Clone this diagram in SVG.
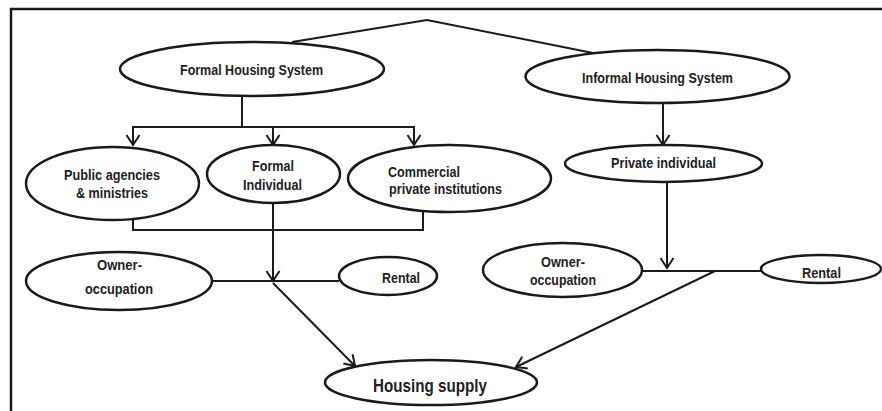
<svg xmlns="http://www.w3.org/2000/svg" width="882" height="411" viewBox="0 0 882 411">
<style>
.n{fill:#fff;stroke:#1a1a1a;stroke-width:2.5}
.c{fill:none;stroke:#1a1a1a;stroke-width:2}
.t{font-family:"Liberation Sans",Arial,sans-serif;font-weight:bold;font-size:15px;fill:#222;text-anchor:middle}
</style>
<defs>
<marker id="ah" markerUnits="userSpaceOnUse" markerWidth="14" markerHeight="16" viewBox="-12 -8 14 16" refX="0" refY="0" orient="auto">
<path d="M-10,-6.5 L0,0 L-10,6.5" fill="none" stroke="#1a1a1a" stroke-width="2"/>
</marker>
</defs>
<rect x="11" y="9" width="900" height="420" fill="#fff" stroke="#1a1a1a" stroke-width="2.5"/>
<g id="connectors">
<polyline class="c" points="292,42 427,20 593,53"/>
<line class="c" x1="242" y1="97" x2="242" y2="127"/>
<line class="c" x1="132" y1="127" x2="415" y2="127"/>
<line class="c" x1="133" y1="127" x2="133" y2="145" marker-end="url(#ah)"/>
<line class="c" x1="273" y1="127" x2="273" y2="145" marker-end="url(#ah)"/>
<line class="c" x1="414" y1="127" x2="414" y2="145" marker-end="url(#ah)"/>
<line class="c" x1="663" y1="103" x2="663" y2="145" marker-end="url(#ah)"/>
<polyline class="c" points="133,220 133,230 423,230 423,212"/>
<line class="c" x1="273" y1="203" x2="273" y2="281" marker-end="url(#ah)"/>
<line class="c" x1="212" y1="281" x2="339" y2="281"/>
<line class="c" x1="273" y1="283" x2="355" y2="366" marker-end="url(#ah)"/>
<line class="c" x1="667" y1="182" x2="667" y2="268" marker-end="url(#ah)"/>
<line class="c" x1="642" y1="271" x2="761" y2="271"/>
<line class="c" x1="715" y1="271" x2="516" y2="367" marker-end="url(#ah)"/>
</g>
<g id="formal">
<ellipse class="n" cx="252" cy="69" rx="132" ry="27"/>
<text class="t" x="251.5" y="75" textLength="143" lengthAdjust="spacingAndGlyphs">Formal Housing System</text>
</g>
<g id="informal">
<ellipse class="n" cx="657.5" cy="76.5" rx="132" ry="26.5"/>
<text class="t" x="657.5" y="83" textLength="151" lengthAdjust="spacingAndGlyphs">Informal Housing System</text>
</g>
<g id="public">
<ellipse class="n" cx="112.5" cy="183.5" rx="86.5" ry="36.5"/>
<text class="t" x="112" y="180" textLength="96" lengthAdjust="spacingAndGlyphs">Public agencies</text>
<text class="t" x="112" y="198" textLength="72" lengthAdjust="spacingAndGlyphs">&amp; ministries</text>
</g>
<g id="formal-individual">
<ellipse class="n" cx="273.5" cy="174" rx="66.5" ry="29"/>
<text class="t" x="273" y="171" textLength="42" lengthAdjust="spacingAndGlyphs">Formal</text>
<text class="t" x="272.5" y="190" textLength="59" lengthAdjust="spacingAndGlyphs">Individual</text>
</g>
<g id="commercial">
<ellipse class="n" cx="449.5" cy="178.5" rx="101.5" ry="33.5"/>
<text class="t" x="388" y="177" style="text-anchor:start" textLength="72" lengthAdjust="spacingAndGlyphs">Commercial</text>
<text class="t" x="389" y="194" style="text-anchor:start" textLength="113" lengthAdjust="spacingAndGlyphs">private institutions</text>
</g>
<g id="private-individual">
<ellipse class="n" cx="663.5" cy="163.5" rx="98.5" ry="18.5"/>
<text class="t" x="663.5" y="168" textLength="105" lengthAdjust="spacingAndGlyphs">Private individual</text>
</g>
<g id="owner-left">
<ellipse class="n" cx="119" cy="281" rx="93" ry="29"/>
<text class="t" x="119.5" y="270" textLength="45" lengthAdjust="spacingAndGlyphs">Owner-</text>
<text class="t" x="119" y="294" textLength="68" lengthAdjust="spacingAndGlyphs">occupation</text>
</g>
<g id="rental-left">
<ellipse class="n" cx="388" cy="276" rx="49" ry="19"/>
<text class="t" x="401" y="283" textLength="38" lengthAdjust="spacingAndGlyphs">Rental</text>
</g>
<g id="owner-right">
<ellipse class="n" cx="562.5" cy="270" rx="79.5" ry="27"/>
<text class="t" x="563" y="267" textLength="44" lengthAdjust="spacingAndGlyphs">Owner-</text>
<text class="t" x="563" y="285" textLength="66" lengthAdjust="spacingAndGlyphs">occupation</text>
</g>
<g id="rental-right">
<ellipse class="n" cx="821" cy="269" rx="60" ry="14"/>
<text class="t" x="802" y="278" style="text-anchor:start" textLength="39" lengthAdjust="spacingAndGlyphs">Rental</text>
</g>
<g id="housing-supply">
<ellipse class="n" cx="431" cy="382.5" rx="106" ry="22.5"/>
<text class="t" x="430" y="392" style="font-size:19px" textLength="114" lengthAdjust="spacingAndGlyphs">Housing supply</text>
</g>
</svg>
